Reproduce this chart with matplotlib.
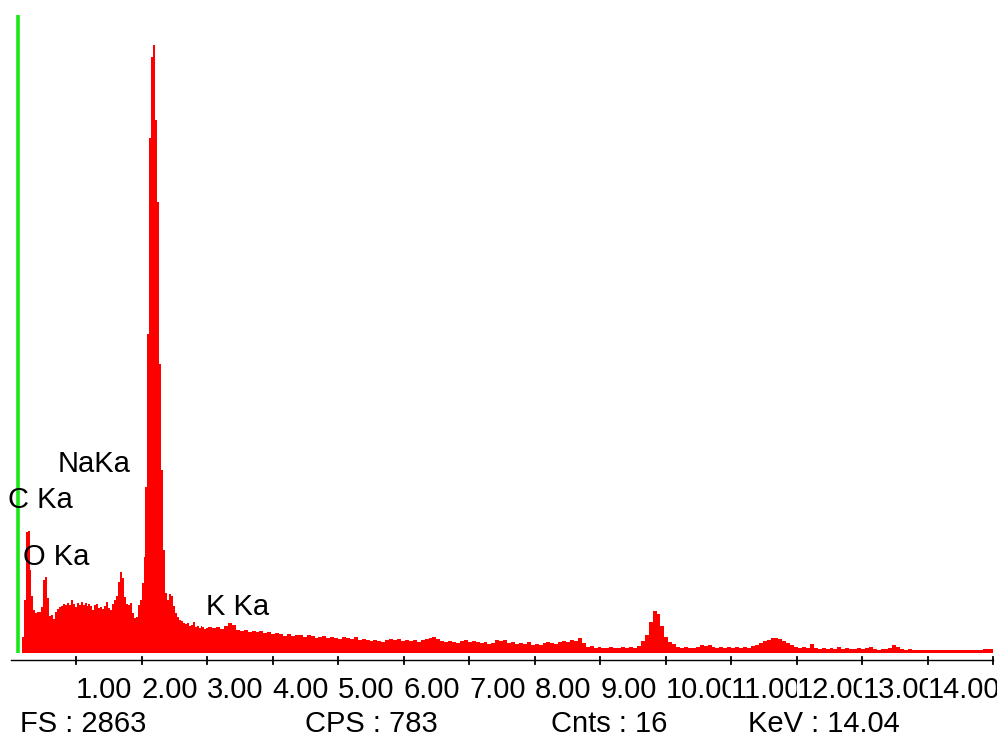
import numpy as np
import matplotlib
matplotlib.use("Agg")
import matplotlib.pyplot as plt

# ---- data -------------------------------------------------------------
full_scale = 2863          # FS
cps = 783
cursor_counts = 16
cursor_kev = 14.04

# fine channels (0.03 keV) from 0.17 to 3.02 keV
low_start, low_width = 0.17, 0.03
low_counts = [72, 238, 543, 548, 373, 256, 193, 180, 184, 184,
              206, 328, 341, 247, 166, 171, 153, 184, 197, 206,
              211, 220, 215, 224, 215, 238, 220, 206, 224, 215,
              229, 215, 224, 211, 220, 211, 193, 215, 220, 202,
              206, 197, 211, 229, 202, 193, 220, 238, 256, 319,
              364, 337, 251, 220, 215, 224, 180, 157, 162, 215,
              238, 314, 431, 745, 1432, 2312, 2676, 2730, 2393, 2025,
              1298, 822, 462, 269, 238, 265, 256, 211, 180, 162,
              148, 144, 135, 130, 135, 121, 126, 139, 117, 121,
              112, 121, 117, 108, 112]

# coarser channels (0.06 keV) from 3.02 to 15.02 keV
high_width = 0.06
high_counts = [117, 112, 117, 108, 121, 135, 126, 103, 99, 103,
               94, 99, 94, 99, 90, 94, 85, 90, 85, 76,
               85, 76, 81, 81, 72, 81, 76, 67, 72, 76,
               67, 72, 67, 63, 72, 67, 63, 72, 58, 63,
               58, 54, 58, 54, 49, 58, 63, 58, 63, 54,
               58, 54, 58, 49, 58, 63, 67, 72, 63, 54,
               49, 54, 49, 45, 54, 58, 49, 54, 49, 45,
               49, 40, 45, 58, 54, 58, 45, 49, 40, 45,
               40, 49, 36, 40, 36, 45, 49, 45, 40, 49,
               54, 49, 58, 54, 67, 45, 27, 31, 22, 27,
               22, 22, 27, 22, 22, 27, 22, 27, 22, 31,
               54, 81, 139, 189, 175, 121, 72, 49, 40, 27,
               22, 27, 22, 22, 27, 36, 31, 36, 27, 22,
               27, 22, 27, 22, 27, 22, 27, 22, 31, 36,
               45, 54, 58, 67, 67, 63, 54, 45, 36, 27,
               22, 27, 22, 40, 22, 18, 22, 18, 22, 18,
               27, 18, 22, 18, 18, 22, 18, 22, 27, 18,
               13, 18, 18, 22, 36, 27, 18, 13, 18, 13,
               13, 13, 13, 13, 13, 13, 13, 13, 13, 13,
               13, 13, 13, 13, 13, 13, 13, 18, 18, 18]

marker_kev = 0.107               # green marker line
x_max = 15.0
tick_values = list(range(1, 16))
tick_labels = ["1.00", "2.00", "3.00", "4.00", "5.00", "6.00", "7.00",
               "8.00", "9.00", "10.00", "11.00", "12.00", "13.00", "14.00"]

peak_labels = ["NaKa", "C Ka", "O Ka", "K Ka"]
peak_label_px = [(58, 472), (8, 508), (23, 565), (206, 615)]   # figure pixels (x, baseline y)

status_texts = [f"FS : {full_scale}", f"CPS : {cps}",
                f"Cnts : {cursor_counts}", f"KeV : {cursor_kev:.2f}"]
status_x_px = [20, 305, 551, 748]

# ---- figure -----------------------------------------------------------
W, H = 997, 735
fig = plt.figure(figsize=(W / 100, H / 100), dpi=100)
fig.patch.set_facecolor("white")
FONT = "Liberation Sans"
FS_TXT = 21

x0_px, x1_px = 10.5, 993.3
y_base_px, y_top_px = 653, 15
ax = fig.add_axes([x0_px / W, (H - y_base_px) / H,
                   (x1_px - x0_px) / W, (y_base_px - y_top_px) / H])
ax.set_xlim(0, x_max)
ax.set_ylim(0, full_scale)
ax.axis("off")

low_edges = low_start + low_width * np.arange(len(low_counts) + 1)
high_edges = low_edges[-1] + high_width * np.arange(1, len(high_counts) + 1)
edges = np.concatenate([low_edges, high_edges])
values = np.array(low_counts + high_counts, dtype=float)

ax.stairs(values, edges, fill=True, color="#ff0000", linewidth=0, zorder=2)

# green marker
ax.plot([marker_kev, marker_kev], [0, full_scale], color="#18e818",
        linewidth=2.6, solid_capstyle="butt", zorder=3)

# axis line and ticks below the spectrum
def frac(ypx):
    return (y_base_px - ypx) / (y_base_px - y_top_px)

xt = ax.get_xaxis_transform()
ax.plot([0, x_max], [frac(660), frac(660)], color="black", linewidth=1.0,
        transform=xt, clip_on=False)
for t in tick_values:
    ax.plot([t, t], [frac(657), frac(664)], color="black", linewidth=1.3,
            transform=xt, clip_on=False)

for k, lab in enumerate(tick_labels):
    ax.text(tick_values[k], frac(698), lab, transform=xt, ha="left",
            va="baseline", fontsize=FS_TXT, family=FONT, color="black",
            bbox=dict(facecolor="white", edgecolor="none", pad=0),
            zorder=10 + k, clip_on=False)

for lab, (px, py) in zip(peak_labels, peak_label_px):
    fig.text(px / W, (H - py) / H, lab, ha="left", va="baseline",
             fontsize=FS_TXT, family=FONT, color="black", zorder=20)

for lab, px in zip(status_texts, status_x_px):
    fig.text(px / W, (H - 732) / H, lab, ha="left", va="baseline",
             fontsize=FS_TXT, family=FONT, color="black")

fig.savefig("out.png", dpi=100, facecolor="white")
